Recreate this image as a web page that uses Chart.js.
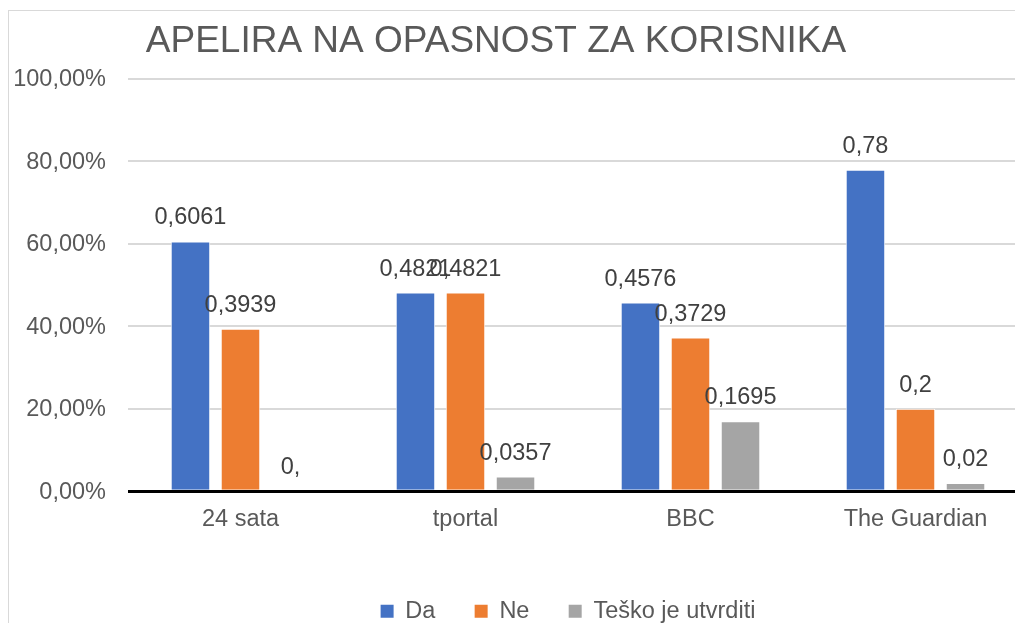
<!DOCTYPE html>
<html><head><meta charset="utf-8">
<script src="https://cdn.jsdelivr.net/npm/chart.js@4"></script>
<style>
html,body{margin:0;padding:0;background:#fff;overflow:hidden;}
#wrap{position:absolute;left:0;top:0;width:1015px;height:623px;overflow:hidden;background:#fff;}
#frame{position:absolute;left:8px;top:10px;width:2000px;height:2000px;border-left:1px solid #d9d9d9;border-top:1px solid #d9d9d9;}
#box{position:absolute;left:0;top:0;width:1140px;height:633px;}
</style></head><body>
<div id="wrap"><div id="frame"></div><div id="box"><canvas id="c"></canvas></div></div>
<script>
const categories = ['24 sata', 'tportal', 'BBC', 'The Guardian'];
const seriesNames = ['Da', 'Ne', 'Teško je utvrditi'];
const da = [0.6061, 0.4821, 0.4576, 0.78];
const ne = [0.3939, 0.4821, 0.3729, 0.2];
const tesko = [0, 0.0357, 0.1695, 0.02];
const yTicks = [0, 0.2, 0.4, 0.6, 0.8, 1.0];
const titleText = 'APELIRA NA OPASNOST ZA KORISNIKA';
const colors = ['#4472C4', '#ED7D31', '#A5A5A5'];

const FONT = '"Liberation Sans", Arial, sans-serif';
const FS = 23.5;
Chart.defaults.font.family = FONT;

function fmtLabel(v) { return v === 0 ? '0,' : String(v).replace('.', ','); }
function fmtTick(v) { return (v * 100).toFixed(2).replace('.', ',') + '%'; }

const titlePlugin = {
  id: 'xlTitle',
  afterDraw(chart) {
    const ctx = chart.ctx;
    ctx.save();
    ctx.font = '37px ' + FONT;
    ctx.fillStyle = '#595959';
    ctx.textAlign = 'center';
    ctx.textBaseline = 'alphabetic';
    ctx.fillText(titleText, 496, 52);
    ctx.restore();
  }
};

const legendShift = {
  id: 'legendShift',
  afterLayout(chart) {
    const l = chart.legend;
    if (!l) return;
    const d = 568 - (l.left + l.right) / 2;
    l.left += d;
    l.right += d;
  }
};

const labelPlugin = {
  id: 'xlLabels',
  afterDatasetsDraw(chart) {
    const ctx = chart.ctx;
    ctx.save();
    ctx.font = FS + 'px ' + FONT;
    ctx.fillStyle = '#404040';
    ctx.textAlign = 'center';
    ctx.textBaseline = 'alphabetic';
    chart.data.datasets.forEach((ds, di) => {
      const meta = chart.getDatasetMeta(di);
      meta.data.forEach((el, i) => {
        ctx.fillText(fmtLabel(ds.data[i]), el.x, el.y - 17);
      });
    });
    ctx.restore();
  }
};

const seriesData = [da, ne, tesko];

new Chart(document.getElementById('c'), {
  type: 'bar',
  data: {
    labels: categories,
    datasets: seriesNames.map((n, k) => ({
      label: n,
      data: seriesData[k],
      backgroundColor: colors[k],
      borderColor: '#ffffff',
      borderWidth: 1,
      barPercentage: 0.79,
      categoryPercentage: 0.667
    }))
  },
  options: {
    responsive: true,
    maintainAspectRatio: false,
    animation: false,
    layout: { padding: { left: 0, right: 112, top: 79, bottom: 0 } },
    plugins: {
      title: { display: false },
      tooltip: { enabled: false },
      legend: {
        position: 'bottom',
        labels: {
          boxWidth: 13,
          boxHeight: 13,
          padding: 39.25,
          color: '#595959',
          font: { size: FS, family: FONT },
          generateLabels(chart) {
            return Chart.defaults.plugins.legend.labels.generateLabels(chart)
              .map(it => Object.assign(it, { lineWidth: 0, strokeStyle: 'rgba(0,0,0,0)' }));
          }
        }
      }
    },
    scales: {
      x: {
        grid: { display: false },
        border: { display: false },
        ticks: { color: '#595959', font: { size: FS }, padding: 6 },
        afterFit(s) { s.height = 69; }
      },
      y: {
        min: 0, max: 1,
        border: { display: false },
        afterBuildTicks(s) { s.ticks = yTicks.map(v => ({ value: v })); },
        afterFit(s) { s.width = 128; },
        grid: {
          drawTicks: false,
          color: c => (c.tick && c.tick.value === 0) ? '#000000' : '#d9d9d9',
          lineWidth: c => (c.tick && c.tick.value === 0) ? 3 : 2
        },
        ticks: { color: '#595959', font: { size: FS }, padding: 22, labelOffset: 1, callback: v => fmtTick(v) }
      }
    }
  },
  plugins: [titlePlugin, legendShift, labelPlugin]
});
</script>
</body></html>
